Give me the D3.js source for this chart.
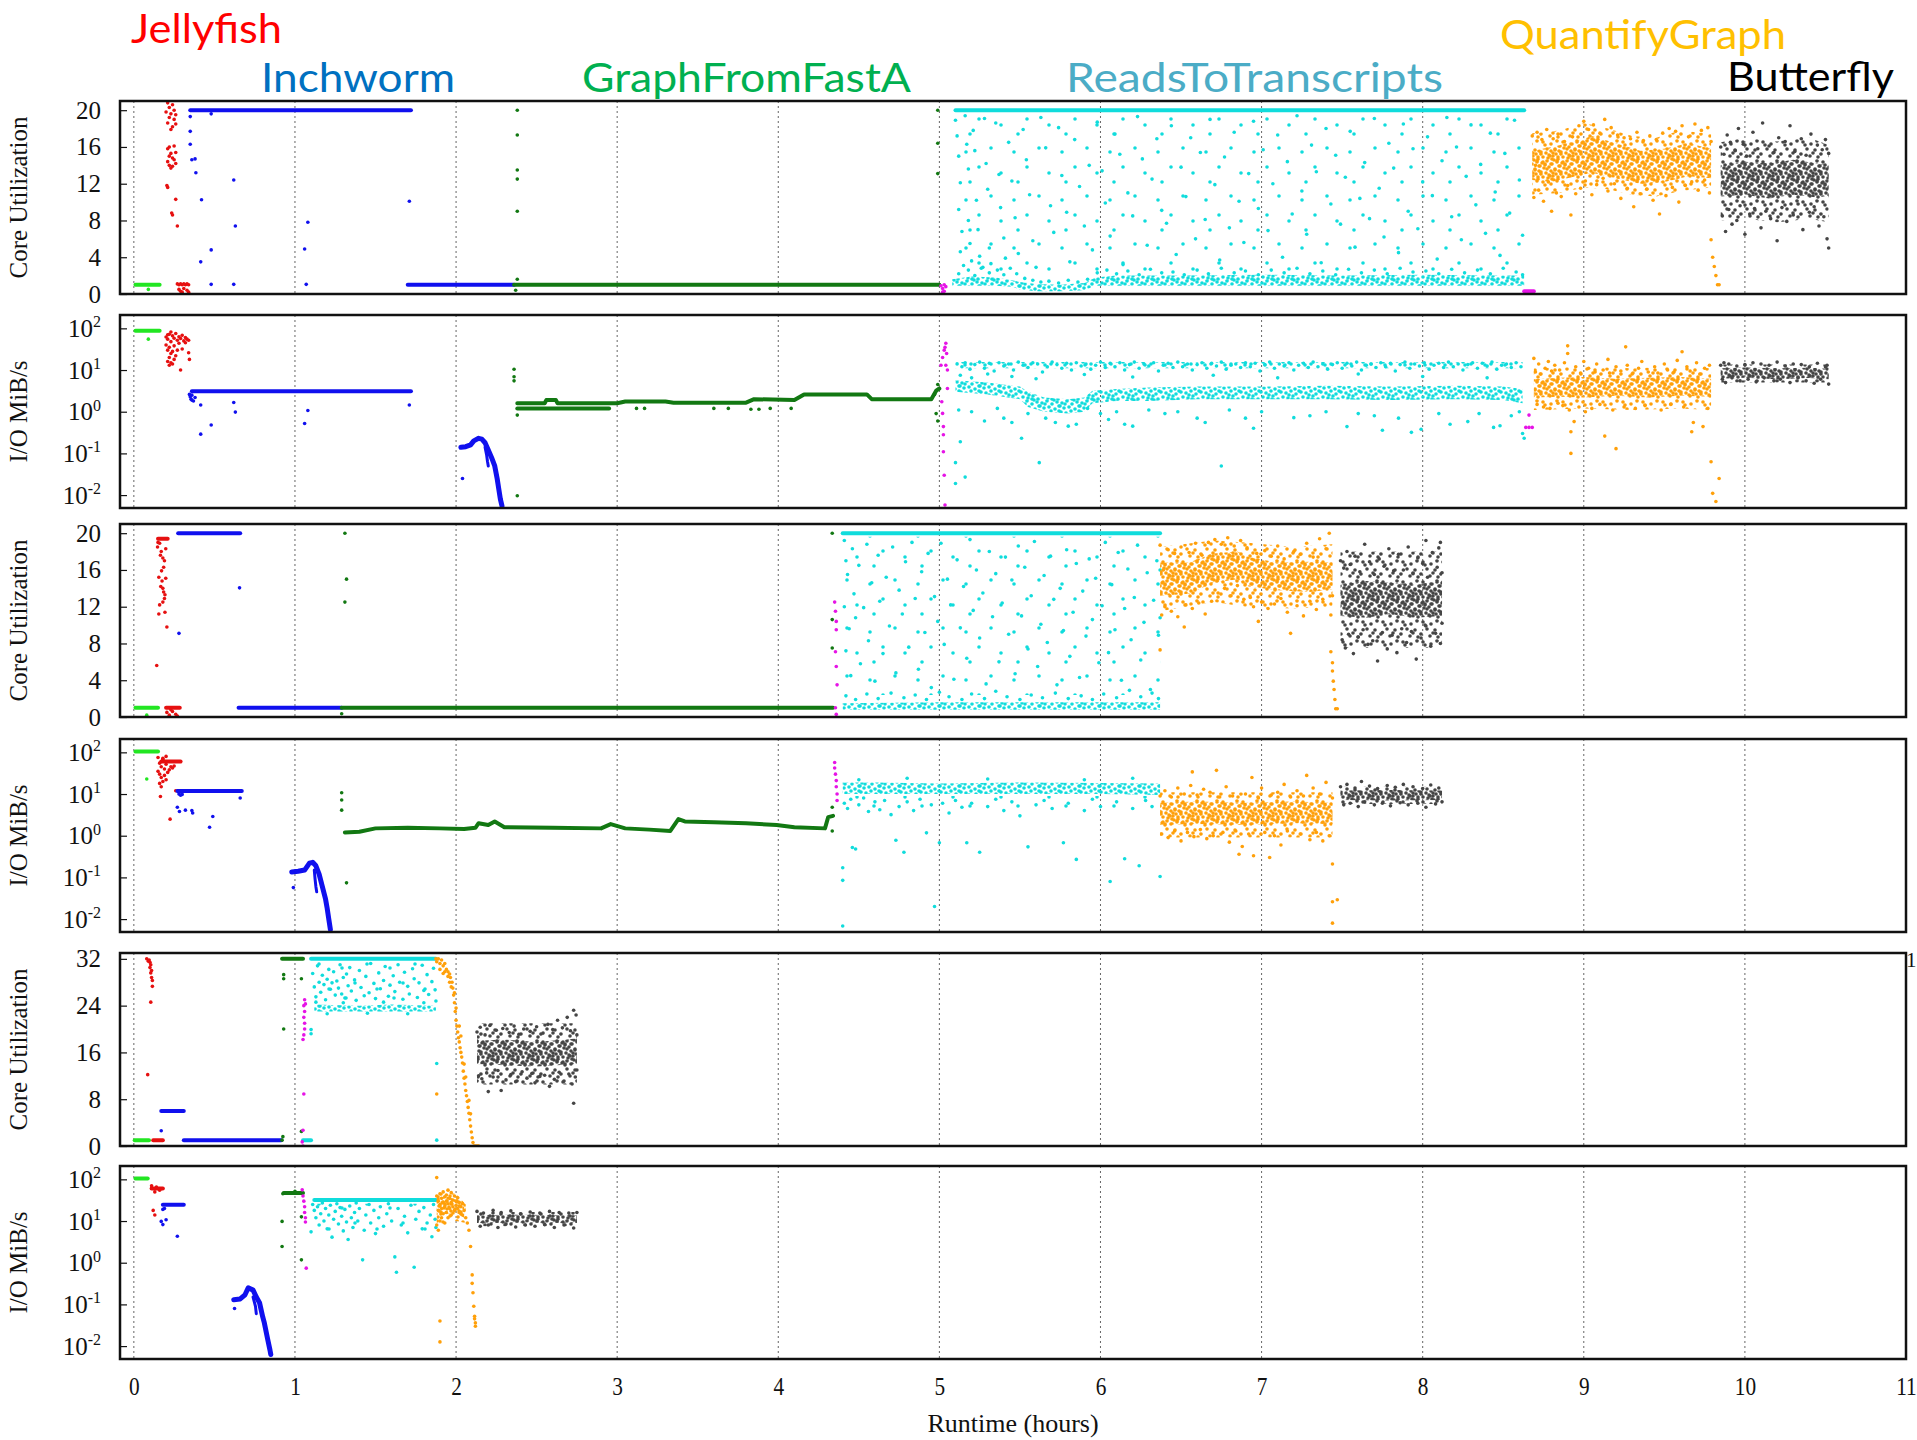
<!DOCTYPE html>
<html>
<head>
<meta charset="utf-8">
<title>Trinity stage profile</title>
<script src="https://d3js.org/d3.v7.min.js"></script>
<style>
body { margin: 0; background: #fff; }
svg { display: block; }
</style>
</head>
<body>
<div id="chart"></div>
<script>
// ---------- data (hours, value) ----------
var hourTicks = [0, 1, 2, 3, 4, 5, 6, 7, 8, 9, 10, 11];
var coreTicks20 = [0, 4, 8, 12, 16, 20];
var coreTicks32 = [0, 8, 16, 24, 32];
var ioTicks = [0.01, 0.1, 1, 10, 100];
var stageNames = ["Jellyfish", "Inchworm", "GraphFromFastA", "ReadsToTranscripts", "QuantifyGraph", "Butterfly"];

// bands are [hours, low, high] outlines of the dense point clouds

// panel 1 : core utilization, run A
var p1LimeRuns = [[0.01, 0.16, 1]];
var p1LimePts = [[0.09, 0.5]];
var p1RedPts = [[0.21,20.8],[0.22,20.3],[0.24,20.6],[0.25,20.0],[0.20,19.8],[0.23,19.6],[0.26,19.5],[0.22,19.2],[0.25,19.0],[0.21,18.6],[0.24,18.2],[0.26,18.5],[0.23,17.9],[0.22,16.0],[0.25,16.1],[0.21,15.8],[0.23,15.3],[0.26,15.4],[0.22,15.0],[0.24,14.8],[0.21,14.4],[0.25,14.6],[0.22,14.0],[0.24,13.9],[0.26,14.2],[0.23,13.7],[0.205,11.8],[0.21,11.6],[0.26,10.3],[0.235,8.8],[0.24,8.6],[0.27,7.4],
  [0.27,1.1],[0.28,1.0],[0.29,1.1],[0.30,1.0],[0.31,1.1],[0.32,1.0],[0.33,1.1],[0.34,1.0],[0.28,0.5],[0.29,0.3],[0.31,0.6],[0.33,0.4],[0.34,0.2],[0.30,0.2]];
var p1BlueRuns = [[0.35, 1.72, 20], [1.70, 2.36, 1]];
var p1BluePts = [[0.35,19.3],[0.35,17.7],[0.35,16.3],[0.36,14.6],[0.38,14.7],[0.385,13.2],[0.42,10.25],[0.415,3.5],[0.48,19.6],[0.48,4.8],[0.48,1.05],[0.62,12.4],[0.63,7.4],[0.62,1.05],[1.06,4.9],[1.08,7.8],[1.07,1.05],[1.71,10.1]];
var p1GreenRuns = [[2.36, 5.0, 1]];
var p1GreenPts = [[2.38,20],[2.38,17.3],[2.38,13.5],[2.38,12.5],[2.38,9.0],[2.38,1.6],[2.37,0.4],[4.99,20],[4.99,16.4],[4.99,13.1]];
var p1MagentaPts = [[5.01,0.9],[5.02,0.6],[5.03,0.3],[5.02,0.2],[5.04,0.8],[5.03,1.0]];
var p1MagentaRuns = [[8.63, 8.69, 0.3]];
var p1CyanRuns = [[5.10, 8.63, 20]];
var p1CyanBand = [[5.08,0.9,1.6],[5.2,0.9,1.9],[5.35,0.9,1.8],[5.45,0.8,1.5],[5.5,0.5,1.3],[5.6,0.3,1.1],[5.75,0.3,1.0],[5.9,0.4,1.2],[5.97,0.9,1.8],[6.1,0.9,2.0],[6.5,0.9,2.0],[7.0,0.9,2.1],[7.5,0.9,2.0],[8.0,0.9,2.1],[8.5,0.9,2.0],[8.63,0.9,2.0]];
var p1CyanCloud = [[5.10,2.4,19.6],[8.62,2.4,19.6]];
var p1CyanLow = [[5.12,2.2],[5.18,2.6],[5.22,2.0],[5.27,2.9],[5.31,2.3],[5.36,2.6],[5.40,2.1],[5.44,2.8],[5.48,2.2],[5.53,1.7],[5.58,1.5],[5.63,1.3],[5.68,1.4],[5.74,1.2],[5.80,1.5],[5.86,1.3],[5.92,1.6],[5.98,2.3],[6.04,2.6],[6.10,2.2],[6.17,2.5],[6.24,2.1],[6.31,2.7],[6.38,2.3],[6.45,2.4],[6.52,2.1],[6.60,2.6],[6.67,2.2],[6.75,2.8],[6.83,2.3],[6.90,2.5],[6.98,2.1],[7.06,2.6],[7.14,2.3],[7.22,2.8],[7.30,2.2],[7.38,2.5],[7.46,2.1],[7.54,2.7],[7.62,2.3],[7.70,2.6],[7.78,2.2],[7.86,2.8],[7.94,2.4],[8.02,2.5],[8.10,2.2],[8.18,2.7],[8.26,2.3],[8.34,2.6],[8.42,2.2],[8.50,2.8],[8.58,2.4],[8.62,2.1]];
var p1CyanPts = [[5.10,18.9],[5.11,17.2],[5.12,15.0],[5.13,12.1],[5.12,9.2],[5.14,6.8],[5.13,4.6],[5.15,3.1],[5.16,19.4],[5.17,16.3],[5.18,13.6],[5.18,8.0],[5.19,5.5],[5.20,3.6],[5.21,17.8],[5.22,15.6],[5.23,10.2],[5.24,7.0],[5.25,4.1],[5.26,2.8],[5.28,19.1],[5.29,14.2],[5.30,11.4],[5.31,5.0],[5.32,3.3],[5.35,18.6],[5.37,13.0],[5.38,9.4],[5.40,6.1],[5.41,3.9],[5.43,16.5],[5.45,12.3],[5.47,8.3],[5.49,4.4],[5.52,17.9],[5.54,14.6],[5.56,10.8],[5.58,5.8],[5.60,2.9],[5.63,19.2],[5.66,15.9],[5.69,9.6],[5.71,6.7],[5.74,18.1],[5.76,12.9],[5.79,8.9],[5.81,3.5],[5.84,16.8],[5.87,11.7],[5.90,7.4],[5.93,14.0],[5.95,4.8],[5.98,18.7],[6.01,13.4],[6.03,9.9],[6.06,6.3],[6.09,17.4],[6.12,15.2],[6.14,3.2],[6.17,11.0],[6.20,8.5],[6.23,19.3],[6.26,14.7],[6.29,5.3],[6.32,12.5],[6.35,16.9],[6.38,9.1],[6.41,7.7],[6.44,18.3],[6.47,4.3],[6.50,13.8],[6.53,10.6],[6.56,17.0],[6.59,6.0],[6.62,15.4],[6.65,8.1],[6.68,19.0],[6.71,11.9],[6.74,3.7],[6.77,14.9],[6.80,7.2],[6.83,17.6],[6.86,10.1],[6.89,5.6],[6.92,13.1],[6.95,18.8],[6.98,9.3],[7.01,15.7],[7.04,6.9],[7.07,12.0],[7.10,17.3],[7.13,4.0],[7.16,14.4],[7.19,8.7],[7.22,19.4],[7.25,11.2],[7.28,6.5],[7.31,16.2],[7.34,13.3],[7.37,3.4],[7.40,18.0],[7.43,9.8],[7.46,15.1],[7.49,7.6],[7.52,12.7],[7.55,17.7],[7.58,5.1],[7.61,10.4],[7.64,14.3],[7.67,8.2],[7.70,19.1],[7.73,11.5],[7.76,6.2],[7.79,16.4],[7.82,13.7],[7.85,4.5],[7.88,18.5],[7.91,9.0],[7.94,15.8],[7.97,7.1],[8.00,12.2],[8.03,17.1],[8.06,10.7],[8.09,3.8],[8.12,14.5],[8.15,19.2],[8.18,8.4],[8.21,16.0],[8.24,5.9],[8.27,12.8],[8.30,18.4],[8.33,9.7],[8.36,14.1],[8.39,6.6],[8.42,17.5],[8.45,11.1],[8.48,4.2],[8.51,15.3],[8.54,8.8],[8.57,18.9],[8.60,12.4],[8.62,6.4]];
var p1OrangeHalo = [[8.68,10.8,17.5],[8.85,11.0,17.8],[9.0,11.6,18.6],[9.15,11.4,18.0],[9.3,10.8,17.2],[9.45,10.6,17.0],[9.6,11.2,17.8],[9.79,11.6,17.4]];
var p1OrangeBand = [[8.68,12.4,15.6],[8.8,12.2,16.0],[8.95,12.8,16.6],[9.05,13.2,17.2],[9.2,12.6,16.4],[9.35,12.0,15.6],[9.5,12.2,15.8],[9.65,12.8,16.4],[9.79,12.6,15.8]];
var p1OrangePts = [[8.68,17.2],[8.69,10.5],[8.70,14.0],[8.71,17.6],[8.72,11.3],[8.74,16.8],[8.75,10.1],[8.77,17.9],[8.78,12.2],[8.80,9.0],[8.81,16.9],[8.83,11.0],[8.84,17.4],[8.86,10.6],[8.88,16.6],[8.90,11.8],[8.92,8.6],[8.93,17.1],[8.95,10.9],[8.97,18.3],[8.98,11.5],[9.00,18.8],[9.01,12.3],[9.03,17.9],[9.05,10.8],[9.06,18.4],[9.08,11.9],[9.10,17.5],[9.12,12.6],[9.13,19.0],[9.15,11.2],[9.17,18.1],[9.19,12.0],[9.21,17.3],[9.23,10.4],[9.25,17.0],[9.27,11.5],[9.29,16.9],[9.31,9.5],[9.33,17.6],[9.35,10.9],[9.37,16.7],[9.39,11.4],[9.41,17.2],[9.43,10.2],[9.45,16.8],[9.47,8.7],[9.49,17.5],[9.51,10.7],[9.53,18.0],[9.55,11.6],[9.57,17.7],[9.59,10.0],[9.61,18.3],[9.63,11.8],[9.65,17.1],[9.67,12.2],[9.69,18.5],[9.71,11.3],[9.73,17.8],[9.75,12.4],[9.77,18.1],[9.78,11.0],[9.79,16.6],
  [9.79,5.9],[9.80,4.0],[9.81,3.0],[9.82,2.0],[9.83,1.0],[9.84,1.0]];
var p1GrayHalo = [[9.85,8.0,16.5],[10.0,8.2,17.0],[10.2,7.8,16.6],[10.4,8.2,17.0],[10.52,7.8,16.2]];
var p1GrayBand = [[9.85,10.6,14.0],[10.0,10.8,14.4],[10.15,10.4,14.2],[10.3,10.8,14.6],[10.45,10.5,14.2],[10.52,10.7,14.0]];
var p1GrayPts = [[9.85,16.0],[9.86,8.5],[9.87,15.2],[9.88,6.8],[9.89,17.3],[9.90,9.2],[9.91,16.5],[9.92,7.6],[9.94,15.6],[9.95,8.0],[9.96,18.0],[9.97,9.6],[9.99,16.3],[10.00,6.5],[10.01,15.0],[10.03,8.7],[10.05,17.6],[10.06,9.3],[10.08,15.8],[10.10,7.2],[10.11,18.6],[10.13,9.0],[10.15,16.1],[10.16,8.2],[10.18,15.4],[10.20,5.8],[10.21,17.0],[10.23,9.4],[10.25,16.6],[10.26,7.9],[10.28,18.3],[10.30,8.6],[10.31,15.5],[10.33,9.8],[10.35,16.9],[10.36,7.0],[10.38,15.1],[10.40,8.9],[10.41,17.4],[10.43,9.5],[10.45,16.2],[10.46,7.4],[10.48,15.7],[10.49,8.4],[10.50,16.8],[10.51,6.0],[10.52,15.3],[10.52,5.0]];

// panel 2 : I/O, run A
var p2LimeRuns = [[0.01, 0.16, 88]];
var p2LimePts = [[0.09, 55]];
var p2RedPts = [[0.20,62],[0.21,55],[0.22,72],[0.23,48],[0.24,66],[0.25,58],[0.26,75],[0.27,52],[0.28,63],[0.29,57],[0.30,68],[0.31,50],[0.32,60],[0.33,55],[0.34,52],[0.20,40],[0.21,30],[0.22,35],[0.23,25],[0.24,28],[0.22,20],[0.21,16],[0.23,15],[0.25,18],[0.24,14],[0.26,22],[0.22,13],[0.25,38],[0.27,30],[0.30,32],[0.32,45],[0.29,10],[0.34,26],[0.345,18],[0.28,44],[0.21,70],[0.23,82]];
var p2BlueRuns = [[0.36, 1.72, 3.1]];
var p2BluePts = [[0.345,2.6],[0.35,2.3],[0.355,2.0],[0.36,1.9],[0.37,1.8],[0.36,2.5],[0.38,2.2],[0.415,1.45],[0.415,0.29],[0.48,0.48],[0.62,1.67],[0.63,0.98],[1.06,0.52],[1.08,1.07],[1.71,1.45],[2.04,0.025]];
var p2BlueCurve = [[2.03,0.14],[2.06,0.145],[2.09,0.16],[2.11,0.2],[2.14,0.23],[2.16,0.22],[2.18,0.18],[2.20,0.12],[2.22,0.08],[2.24,0.05],[2.255,0.025],[2.265,0.014],[2.275,0.008],[2.285,0.0055]];
var p2BlueBranch = [[2.18,0.14],[2.19,0.09],[2.195,0.065],[2.20,0.05]];
var p2GreenPts = [[2.36,10.4],[2.36,6.9],[2.36,5.5],[2.38,0.83],[2.38,0.0096],[3.12,1.2],[3.17,1.2],[3.6,1.2],[3.69,1.2],[3.83,1.15],[3.88,1.15],[3.95,1.2],[4.08,1.2],[4.98,0.9],[4.99,0.6],[4.97,2.6],[4.99,4.5]];
var p2GreenTrace = [[2.38,1.6],[2.55,1.6],[2.56,1.9],[2.62,1.9],[2.63,1.6],[3.0,1.6],[3.05,1.75],[3.3,1.75],[3.35,1.65],[3.8,1.65],[3.85,2.0],[4.1,1.9],[4.16,2.6],[4.55,2.6],[4.58,2.0],[4.95,2.0],[4.98,3.2],[5.0,3.6]];
var p2GreenLow = [[2.38,1.2],[2.95,1.2]];
var p2MagentaPts = [[5.04,44],[5.045,25],[5.04,13],[5.01,13],[5.05,10],[5.02,20],[5.03,30],[5.035,35],[5.015,1.74],[5.02,0.91],[5.025,0.44],[5.025,0.28],[5.025,0.11],[5.03,0.03],[5.035,0.0058],[5.05,3.6],[8.66,0.83],[8.64,0.42],[8.66,0.42],[8.68,0.42]];
var p2CyanBand = [[5.10,3.0,5.7],[5.3,2.6,5.0],[5.5,2.0,4.0],[5.55,1.3,3.0],[5.65,1.0,2.2],[5.8,0.9,2.0],[5.9,1.0,2.2],[5.95,1.6,3.2],[6.1,1.8,3.5],[6.3,1.8,3.8],[6.6,2.0,4.0],[7.0,2.0,4.0],[7.4,2.0,4.2],[7.8,1.9,4.0],[8.2,2.0,4.2],[8.5,1.9,4.0],[8.62,1.6,3.5]];
var p2CyanRow = [[5.10,11,15.5],[8.62,11,15.5]];
var p2CyanUpper = [[5.11,14],[5.14,12],[5.16,15],[5.19,10.5],[5.22,13.5],[5.25,15.5],[5.28,11],[5.31,14.5],[5.34,9.5],[5.37,15],[5.40,12.5],[5.43,14],[5.46,10],[5.49,15.5],[5.52,13],[5.55,11.5],[5.58,15],[5.61,14],[5.64,9],[5.67,12],[5.70,15.5],[5.73,13.5],[5.76,11],[5.79,14.5],[5.82,10],[5.85,15],[5.88,12.5],[5.91,14],[5.94,10.5],[5.97,13],[6.00,15.5],[6.03,11.5],[6.06,14.5],[6.09,12],[6.12,15],[6.15,10],[6.18,13.5],[6.21,15.5],[6.24,11],[6.27,14],[6.30,12.5],[6.33,15],[6.36,9.5],[6.39,13],[6.42,14.5],[6.45,11.5],[6.48,15.5],[6.51,12],[6.54,14],[6.57,10],[6.60,13.5],[6.63,15],[6.66,11],[6.69,14.5],[6.72,12.5],[6.75,15.5],[6.78,10.5],[6.81,13],[6.84,14],[6.87,11.5],[6.90,15],[6.93,12],[6.96,14.5],[6.99,9.5],[7.02,13.5],[7.05,15.5],[7.08,11],[7.11,14],[7.14,12.5],[7.17,15],[7.20,10],[7.23,13],[7.26,14.5],[7.29,11.5],[7.32,15.5],[7.35,12],[7.38,14],[7.41,10.5],[7.44,13.5],[7.47,15],[7.50,11],[7.53,14.5],[7.56,12.5],[7.59,15.5],[7.62,10],[7.65,13],[7.68,14],[7.71,11.5],[7.74,15],[7.77,12],[7.80,14.5],[7.83,9.5],[7.86,13.5],[7.89,15.5],[7.92,11],[7.95,14],[7.98,12.5],[8.01,15],[8.04,10.5],[8.07,13],[8.10,14.5],[8.13,11.5],[8.16,15.5],[8.19,12],[8.22,14],[8.25,10],[8.28,13.5],[8.31,15],[8.34,11],[8.37,14.5],[8.40,12.5],[8.43,15.5],[8.46,10.5],[8.49,13],[8.52,14],[8.55,11.5],[8.58,15],[8.61,12],
  [5.13,7.5],[5.2,6.5],[5.3,8],[5.45,7],[5.6,6.2],[5.9,7.8],[6.2,6.8],[6.7,7.5],[7.1,6.5],[7.6,8],[8.0,7],[8.4,6.5]];
var p2CyanLower = [[5.12,1.1],[5.13,0.19],[5.10,0.06],[5.10,0.019],[5.16,0.027],[5.2,1.0],[5.28,0.6],[5.36,1.2],[5.4,0.7],[5.45,0.55],[5.51,0.23],[5.55,0.9],[5.62,0.06],[5.66,0.7],[5.72,0.55],[5.8,0.45],[5.85,0.5],[5.92,1.2],[6.0,0.9],[6.05,0.65],[6.1,1.0],[6.15,0.5],[6.2,0.45],[6.3,1.1],[6.4,0.9],[6.48,1.0],[6.6,0.7],[6.65,0.55],[6.75,0.05],[6.8,1.1],[6.9,0.7],[6.95,0.4],[7.0,1.0],[7.2,0.72],[7.3,0.8],[7.4,1.0],[7.53,0.44],[7.6,0.9],[7.7,0.8],[7.75,0.36],[7.85,0.7],[7.93,0.32],[7.99,0.38],[8.1,0.9],[8.17,0.5],[8.28,0.58],[8.35,0.9],[8.44,0.42],[8.48,0.46],[8.55,0.8],[8.6,1.0],[8.62,0.3],[8.63,0.23]];
var p2OrangeHalo = [[8.69,1.1,11],[9.0,1.2,12],[9.3,1.1,11],[9.6,1.2,12],[9.79,1.1,11]];
var p2OrangeBand = [[8.69,2.2,6.0],[8.85,2.3,6.5],[9.0,2.2,6.8],[9.2,2.4,6.2],[9.4,2.2,6.5],[9.6,2.4,6.8],[9.79,2.3,6.2]];
var p2OrangePts = [[8.69,19],[8.70,9],[8.71,1.5],[8.72,14],[8.73,8],[8.75,1.3],[8.76,11],[8.78,16],[8.79,1.2],[8.80,9.5],[8.82,13],[8.84,1.6],[8.85,10],[8.87,1.4],[8.88,15],[8.90,38],[8.90,25],[8.91,1.1],[8.92,0.33],[8.92,0.1],[8.94,0.58],[8.95,12],[8.97,1.3],[8.98,8.5],[9.00,16],[9.01,1.0],[9.03,11],[9.05,1.2],[9.07,9],[9.08,14],[9.10,1.5],[9.12,10],[9.13,0.26],[9.15,18],[9.16,8.5],[9.18,1.1],[9.20,0.13],[9.20,12],[9.23,9.5],[9.25,1.3],[9.26,36],[9.27,13],[9.30,8],[9.32,1.2],[9.34,11],[9.36,16],[9.38,1.4],[9.40,9],[9.44,12],[9.46,8.5],[9.48,1.1],[9.50,14],[9.52,10],[9.54,1.5],[9.56,9],[9.58,17],[9.61,27.5],[9.62,1.3],[9.64,12],[9.66,9.5],[9.67,0.33],[9.68,0.55],[9.70,15],[9.72,8],[9.74,0.44],[9.75,11],[9.77,1.2],[9.78,13],[9.79,0.063],[9.80,0.011],[9.82,0.007],[9.84,0.025]];
var p2GrayHalo = [[9.85,5.0,13.5],[10.52,5.0,13.5]];
var p2GrayBand = [[9.85,6.2,11.0],[10.0,6.5,11.5],[10.2,6.0,11.0],[10.4,6.4,11.4],[10.52,6.0,10.8]];
var p2GrayPts = [[9.85,13],[9.86,6],[9.87,15],[9.88,5],[9.90,14],[9.92,6.5],[9.95,12.5],[9.97,5.5],[10.0,13.5],[10.02,6],[10.05,15],[10.07,5.2],[10.1,14],[10.12,6.5],[10.15,13],[10.18,5.5],[10.2,15.5],[10.22,6],[10.25,12.5],[10.28,5],[10.3,14],[10.33,6.5],[10.35,13.5],[10.38,5.5],[10.4,12],[10.43,4.8],[10.45,14.5],[10.47,6],[10.5,12],[10.52,4.6],[10.51,13]];

// panel 3 : core utilization, run B
var p3LimeRuns = [[0.01, 0.15, 1]];
var p3LimePts = [[0.08, 0.2]];
var p3RedRuns = [[0.15, 0.21, 19.4], [0.20, 0.285, 1.0]];
var p3RedPts = [[0.147,18.5],[0.198,18.3],[0.165,17.6],[0.18,17.3],[0.185,16.3],[0.172,15.9],[0.155,15.2],[0.198,15.1],[0.167,14.2],[0.185,13.6],[0.193,13.3],[0.18,12.5],[0.16,12.2],[0.155,11.2],[0.193,11.4],[0.205,9.8],[0.142,5.6],[0.15,19.0],[0.16,18.9],[0.17,18.0],[0.19,17.0],[0.175,14.8],[0.18,14.0],[0.19,12.9],[0.205,0.5],[0.22,0.2],[0.24,0.6],[0.26,0.3],[0.27,0.1],[0.23,0.8]];
var p3BlueRuns = [[0.275, 0.66, 20], [0.65, 1.29, 1]];
var p3BluePts = [[0.28, 9.1], [0.656, 14.05]];
var p3GreenRuns = [[1.29, 4.34, 1]];
var p3GreenPts = [[1.31,20],[1.32,15],[1.31,12.5],[1.29,0.36],[4.335,20],[4.335,10.6],[4.335,7.5]];
var p3MagentaPts = [[4.35,12.5],[4.355,11.5],[4.36,10.4],[4.36,9.5],[4.355,7.1],[4.36,5.5],[4.365,3.5],[4.355,1.0],[4.36,0.3],[4.36,0.0]];
var p3CyanRuns = [[4.40, 6.37, 20]];
var p3CyanBand = [[4.40,0.8,1.5],[5.0,0.8,1.6],[5.5,0.8,1.6],[6.0,0.8,1.6],[6.37,0.8,1.6]];
var p3CyanCloud = [[4.40,2.4,19.6],[6.37,2.4,19.6]];
var p3CyanPts = [[4.41,19.2],[4.42,17.0],[4.43,15.5],[4.41,12.0],[4.44,9.6],[4.42,7.2],[4.45,4.5],[4.46,18.3],[4.47,13.4],[4.48,10.8],[4.50,16.5],[4.51,5.8],[4.53,11.9],[4.55,18.8],[4.56,8.3],[4.58,14.6],[4.60,3.9],[4.62,17.6],[4.63,12.6],[4.65,6.9],[4.67,15.2],[4.69,9.9],[4.71,18.5],[4.73,4.8],[4.75,13.8],[4.77,11.2],[4.79,16.9],[4.81,7.6],[4.83,19.0],[4.85,12.9],[4.87,5.2],[4.89,15.8],[4.91,9.2],[4.93,17.8],[4.95,3.2],[4.97,13.1],[4.99,10.4],[5.01,18.9],[5.03,7.9],[5.05,15.0],[5.07,12.2],[5.09,4.1],[5.11,17.1],[5.13,9.7],[5.15,14.2],[5.17,6.4],[5.19,19.3],[5.21,11.6],[5.23,16.0],[5.25,8.6],[5.27,13.5],[5.29,3.6],[5.31,18.0],[5.33,10.9],[5.35,15.6],[5.37,6.0],[5.39,12.4],[5.41,17.4],[5.43,9.0],[5.45,14.9],[5.47,4.7],[5.49,18.6],[5.51,11.0],[5.53,16.3],[5.55,7.4],[5.57,13.2],[5.59,19.1],[5.61,5.5],[5.63,10.1],[5.65,15.4],[5.67,8.1],[5.69,17.5],[5.71,12.8],[5.73,3.5],[5.75,14.0],[5.77,9.4],[5.79,18.2],[5.81,6.6],[5.83,11.4],[5.85,16.7],[5.87,4.3],[5.89,13.7],[5.91,8.8],[5.93,17.2],[5.95,10.6],[5.97,15.1],[5.99,5.9],[6.01,12.1],[6.03,19.0],[6.05,7.0],[6.07,14.4],[6.09,9.5],[6.11,17.9],[6.13,4.0],[6.15,11.8],[6.17,16.1],[6.19,8.4],[6.21,13.0],[6.23,18.7],[6.25,6.2],[6.27,10.3],[6.29,15.7],[6.31,3.0],[6.33,12.7],[6.35,17.0],[6.36,8.9],[6.37,10.8],[6.37,16.0],
  [4.42,2.3],[4.48,1.9],[4.55,2.5],[4.62,2.0],[4.7,2.6],[4.78,2.1],[4.85,2.4],[4.92,1.9],[5.0,2.7],[5.06,2.2],[5.14,1.9],[5.2,2.5],[5.28,2.0],[5.35,2.8],[5.42,2.2],[5.5,1.9],[5.57,2.4],[5.64,2.1],[5.72,2.6],[5.8,2.0],[5.88,2.3],[5.95,1.9],[6.02,2.5],[6.1,2.1],[6.18,2.9],[6.25,2.2],[6.32,2.6],[6.36,2.0]];
var p3OrangeHalo = [[6.37,11.5,18.5],[6.7,12.5,19.2],[6.9,12.0,19.0],[7.2,11.8,18.5],[7.44,12.0,18.8]];
var p3OrangeBand = [[6.37,13.2,16.8],[6.55,13.4,16.8],[6.70,14.6,17.8],[6.85,15.0,18.0],[6.92,14.2,17.4],[7.1,13.8,16.8],[7.3,13.6,16.9],[7.44,13.9,16.8]];
var p3OrangePts = [[6.37,18.7],[6.38,11.1],[6.39,16.0],[6.40,12.0],[6.42,18.2],[6.44,11.5],[6.46,17.8],[6.48,10.9],[6.50,18.5],[6.52,9.8],[6.53,12.2],[6.55,17.9],[6.57,11.8],[6.59,18.9],[6.61,12.4],[6.63,17.6],[6.65,11.2],[6.67,19.0],[6.69,12.6],[6.71,19.3],[6.73,13.5],[6.75,18.8],[6.77,14.0],[6.79,19.5],[6.81,13.2],[6.83,18.6],[6.85,14.3],[6.87,19.2],[6.89,12.8],[6.91,18.4],[6.93,13.0],[6.95,12.0],[6.97,17.8],[6.98,10.4],[7.00,12.5],[7.02,18.1],[7.04,11.8],[7.06,17.5],[7.08,12.3],[7.10,18.6],[7.12,12.9],[7.14,17.2],[7.16,11.4],[7.18,9.1],[7.20,18.0],[7.22,12.1],[7.24,17.7],[7.26,11.0],[7.28,18.9],[7.30,12.6],[7.32,17.4],[7.34,11.7],[7.36,19.4],[7.38,12.8],[7.40,18.3],[7.42,20.0],[7.43,11.1],[7.44,13.2],[6.37,7.3],
  [7.43,7.1],[7.44,5.9],[7.44,5.0],[7.445,3.9],[7.45,3.0],[7.455,1.9],[7.46,0.9],[7.47,0.9]];
var p3GrayHalo = [[7.49,7.5,18.0],[8.12,7.5,18.0]];
var p3GrayBand = [[7.49,11.0,14.4],[7.65,10.8,14.8],[7.8,11.2,14.6],[7.95,10.8,14.4],[8.12,11.0,14.8]];
var p3GrayPts = [[7.49,17.0],[7.50,8.4],[7.51,16.2],[7.52,7.5],[7.53,18.0],[7.54,9.0],[7.55,16.6],[7.57,6.9],[7.58,17.5],[7.60,8.7],[7.61,15.8],[7.63,9.5],[7.64,18.8],[7.66,7.9],[7.67,16.9],[7.69,8.3],[7.70,15.5],[7.72,6.1],[7.73,17.2],[7.75,9.2],[7.76,16.4],[7.78,7.4],[7.79,18.3],[7.81,8.9],[7.82,15.9],[7.84,7.0],[7.85,17.7],[7.87,9.6],[7.88,16.0],[7.90,8.1],[7.91,18.5],[7.93,9.3],[7.94,15.6],[7.96,6.3],[7.97,17.3],[7.99,8.6],[8.00,16.7],[8.02,9.9],[8.03,15.2],[8.05,7.7],[8.06,17.9],[8.08,9.1],[8.09,16.3],[8.10,18.4],[8.11,8.0],[8.12,15.7],[8.12,10.2],[8.11,19.0],[8.02,19.2]];

// panel 4 : I/O, run B
var p4LimeRuns = [[0.01, 0.15, 105]];
var p4LimePts = [[0.08, 23]];
var p4RedRuns = [[0.17, 0.29, 60]];
var p4RedPts = [[0.15,75],[0.16,55],[0.17,45],[0.18,68],[0.19,40],[0.20,52],[0.15,35],[0.16,30],[0.17,25],[0.18,20],[0.19,28],[0.20,22],[0.21,33],[0.22,38],[0.23,45],[0.16,18],[0.165,8.7],[0.225,2.5],[0.26,12],[0.24,42],[0.25,47],[0.18,72],[0.2,80],[0.17,15]];
var p4BlueRuns = [[0.27, 0.67, 11.8]];
var p4BluePts = [[0.28,10],[0.29,9.4],[0.30,9.8],[0.27,4.8],[0.283,3.8],[0.32,4.1],[0.36,4.0],[0.365,3.5],[0.47,1.6],[0.49,2.9],[0.66,8.0],[0.99,0.057]];
var p4BlueCurve = [[0.98,0.135],[1.02,0.14],[1.06,0.15],[1.09,0.22],[1.11,0.23],[1.13,0.19],[1.15,0.12],[1.17,0.06],[1.19,0.03],[1.20,0.018],[1.21,0.01],[1.22,0.0056]];
var p4BlueBranch = [[1.12,0.15],[1.125,0.09],[1.13,0.06],[1.135,0.045]];
var p4GreenPts = [[1.29,10.7],[1.29,7.2],[1.29,4.1],[1.32,0.074],[4.335,4.8],[4.335,1.3]];
var p4GreenTrace = [[1.31,1.2],[1.4,1.25],[1.5,1.5],[1.7,1.55],[1.9,1.5],[2.05,1.45],[2.12,1.55],[2.14,2.0],[2.2,1.8],[2.24,2.2],[2.3,1.6],[2.6,1.55],[2.9,1.5],[2.96,1.9],[3.05,1.5],[3.2,1.4],[3.33,1.3],[3.38,2.5],[3.42,2.2],[3.6,2.1],[3.8,2.0],[3.99,1.8],[4.1,1.6],[4.29,1.5],[4.31,2.8],[4.34,3.0]];
var p4MagentaPts = [[4.35,57],[4.35,42],[4.355,30],[4.36,21],[4.36,15],[4.365,10],[4.365,7]];
var p4CyanBand = [[4.40,10,19],[4.6,10,19],[5.0,10,18],[5.5,10,19],[6.0,10,18.5],[6.37,9.5,18]];
var p4CyanCloud = [[4.40,3.0,9.0],[6.37,3.0,9.0]];
var p4CyanPts = [[4.41,6],[4.43,4.5],[4.45,7.5],[4.46,0.52],[4.48,0.48],[4.50,5.5],[4.53,8],[4.56,3.8],[4.60,6.5],[4.63,4.2],[4.66,7],[4.70,3.2],[4.73,0.78],[4.75,5],[4.78,0.4],[4.80,6.5],[4.84,4],[4.88,7.5],[4.92,1.17],[4.95,5.5],[4.97,0.02],[5.0,0.68],[5.02,6],[5.06,3.5],[5.10,7],[5.14,4.8],[5.17,0.68],[5.20,6],[5.25,0.4],[5.30,5],[5.35,7.5],[5.40,4],[5.45,6.5],[5.50,3],[5.55,0.54],[5.60,5.5],[5.65,7],[5.70,4.5],[5.77,0.68],[5.80,6],[5.85,0.27],[5.9,4],[5.95,7.5],[6.0,5],[6.06,0.08],[6.10,6.5],[6.15,0.28],[6.2,4.5],[6.24,0.19],[6.28,7],[6.32,5],[6.37,0.105],[4.40,0.0068],[4.40,0.085],[4.40,0.17],[4.5,22],[4.8,24],[5.3,23],[5.9,22],[6.2,24]];
var p4OrangeHalo = [[6.37,0.9,11],[7.44,0.9,11]];
var p4OrangeBand = [[6.37,1.8,6.2],[6.6,1.9,6.6],[6.9,1.8,6.2],[7.2,2.0,6.6],[7.44,1.9,6.2]];
var p4OrangePts = [[6.37,9],[6.38,1.1],[6.40,12],[6.42,0.9],[6.44,8.5],[6.46,1.3],[6.48,14],[6.50,0.75],[6.52,10],[6.54,1.2],[6.56,16],[6.57,34],[6.58,0.95],[6.60,9.5],[6.62,1.4],[6.64,13],[6.66,0.85],[6.68,11],[6.70,1.0],[6.72,37],[6.74,8.5],[6.76,1.2],[6.78,15],[6.80,0.7],[6.82,9],[6.84,1.3],[6.86,0.36],[6.88,0.55],[6.90,10],[6.92,1.1],[6.94,25],[6.95,0.33],[6.98,8],[7.00,14],[7.02,1.2],[7.05,0.3],[7.06,9.5],[7.08,1.0],[7.10,11],[7.12,0.6],[7.14,17],[7.16,1.3],[7.18,8.5],[7.22,12],[7.24,1.1],[7.26,9],[7.28,28],[7.30,0.8],[7.32,14],[7.34,1.2],[7.36,10],[7.38,0.75],[7.40,19],[7.42,1.0],[7.44,8],[7.44,0.21],[7.44,0.026],[7.47,0.029],[7.44,0.008]];
var p4GrayHalo = [[7.49,5.8,15.0],[8.12,5.8,15.0]];
var p4GrayBand = [[7.49,7.2,12.2],[7.8,7.0,12.5],[8.12,7.2,12.2]];
var p4GrayPts = [[7.49,15],[7.51,5.5],[7.53,17],[7.55,6],[7.58,14],[7.60,5],[7.62,20],[7.64,6.5],[7.67,15.5],[7.70,5.5],[7.72,13.5],[7.75,6],[7.78,16],[7.80,5.2],[7.83,14.5],[7.86,6.2],[7.88,17],[7.91,5.5],[7.94,15],[7.97,6],[8.0,13.5],[8.02,4.8],[8.05,16.5],[8.08,5.8],[8.10,14],[8.12,6.5]];

// panel 5 : core utilization, run C
var p5LimeRuns = [[0.005, 0.094, 1]];
var p5RedRuns = [[0.12, 0.18, 1]];
var p5RedPts = [[0.08,32],[0.09,31.6],[0.1,31.4],[0.095,31.8],[0.105,31],[0.1,30.5],[0.11,30],[0.105,29.6],[0.11,28.8],[0.115,28.3],[0.115,27.3],[0.105,24.6],[0.086,12.2]];
var p5BlueRuns = [[0.17, 0.31, 6.0], [0.31, 0.915, 1]];
var p5BluePts = [[0.17, 2.6]];
var p5GreenRuns = [[0.92, 1.05, 32]];
var p5GreenPts = [[0.93,20],[0.93,29.3],[0.93,28.6],[1.04,28.6],[0.92,1.0],[0.925,1.6],[1.04,2.5]];
var p5MagentaPts = [[1.06,25],[1.055,24],[1.06,23],[1.055,22],[1.06,20],[1.055,19],[1.05,18.2],[1.055,8.9],[1.05,2.7],[1.045,0.7],[1.05,0],[1.065,24.3],[1.06,21]];
var p5CyanRuns = [[1.10, 1.875, 32], [1.05, 1.10, 1]];
var p5CyanBand = [[1.12,23.0,24.2],[1.4,23.0,24.0],[1.6,23.0,24.2],[1.875,23.0,24.0]];
var p5CyanCloud = [[1.11,24.4,31.5],[1.875,24.4,31.5]];
var p5CyanPts = [[1.11,29.5],[1.12,27.2],[1.13,25.5],[1.14,30.8],[1.15,28.0],[1.16,26.3],[1.17,29.2],[1.18,27.6],[1.19,25.0],[1.20,28.5],[1.21,30.2],[1.22,26.8],[1.23,27.9],[1.24,29.8],[1.25,25.8],[1.26,28.2],[1.27,27.0],[1.28,31.0],[1.29,26.0],[1.30,28.8],[1.31,25.3],[1.32,29.4],[1.33,27.4],[1.34,30.5],[1.35,26.5],[1.37,28.4],[1.38,24.9],[1.40,30.0],[1.41,27.1],[1.43,25.7],[1.44,29.0],[1.46,26.2],[1.47,31.2],[1.49,27.8],[1.50,25.2],[1.52,29.6],[1.53,26.9],[1.55,28.3],[1.56,30.7],[1.58,25.6],[1.59,27.5],[1.61,29.1],[1.62,26.4],[1.64,31.0],[1.65,28.0],[1.67,25.1],[1.68,29.7],[1.70,27.3],[1.71,26.0],[1.73,30.3],[1.74,28.6],[1.76,25.4],[1.77,27.9],[1.79,30.9],[1.80,26.6],[1.82,29.3],[1.83,25.9],[1.85,28.1],[1.86,30.4],[1.87,26.7],[1.875,24.8],
  [1.13,24.6],[1.2,22.6],[1.3,24.5],[1.45,22.7],[1.55,24.6],[1.7,22.6],[1.8,24.5],[1.10,19.9],[1.10,19.2],[1.88,14.1],[1.88,1.0]];
var p5OrangePts = [[1.875,32],[1.88,31.5],[1.89,32],[1.90,31.2],[1.91,31.8],[1.92,30.8],[1.93,31.2],[1.93,29.8],[1.94,30.2],[1.95,29.0],[1.95,29.8],[1.96,28.0],[1.965,28.8],[1.97,27.2],[1.975,28.0],[1.98,27.0],[1.985,25.8],[1.99,24.5],[1.995,23.0],[2.0,21.5],[2.005,20.5],[2.01,19.5],[2.015,18.5],[2.02,17.8],[2.025,16.8],[2.03,16.0],[2.035,15.2],[2.04,14.2],[2.045,12.8],[2.05,11.6],[2.055,10.6],[2.06,9.5],[2.065,8.6],[2.07,7.6],[2.075,6.6],[2.08,5.6],[2.085,4.5],[2.09,3.4],[2.095,2.4],[2.10,1.4],[2.105,0.6],[2.11,0],[2.12,0],[2.13,0],[2.14,0],[1.88,8.9],
  [1.9,30.2],[1.92,29.5],[1.96,29.4],[1.99,26.2],[2.0,23.6],[2.02,20.5],[2.03,18.8],[2.05,14.0],[2.06,11.8],[2.08,7.8],[2.09,5.5]];
var p5GrayHalo = [[2.13,10.5,21.0],[2.75,10.5,21.0]];
var p5GrayBand = [[2.13,14.0,18.0],[2.3,13.8,18.2],[2.5,13.6,17.8],[2.75,14.0,18.4]];
var p5GrayPts = [[2.13,19.5],[2.14,12.0],[2.15,20.3],[2.16,11.5],[2.18,19.0],[2.19,12.5],[2.20,9.3],[2.21,20.6],[2.23,11.8],[2.25,19.8],[2.26,12.9],[2.28,9.5],[2.29,20.1],[2.31,11.3],[2.33,19.4],[2.34,12.2],[2.36,20.5],[2.37,11.0],[2.39,19.1],[2.41,12.7],[2.42,20.0],[2.44,11.6],[2.46,19.6],[2.47,12.4],[2.49,10.8],[2.50,20.4],[2.52,11.9],[2.54,19.3],[2.55,12.1],[2.57,20.8],[2.58,10.2],[2.60,19.9],[2.61,11.4],[2.63,21.5],[2.64,12.6],[2.66,20.2],[2.67,11.1],[2.69,22.0],[2.70,12.3],[2.71,19.7],[2.72,10.6],[2.73,23.2],[2.74,11.8],[2.745,22.4],[2.73,7.3],[2.75,13.0],[2.75,19.0]];

// panel 6 : I/O, run C
var p6LimeRuns = [[0.01, 0.086, 105]];
var p6RedRuns = [[0.11, 0.18, 60]];
var p6RedPts = [[0.12,18],[0.13,14],[0.13,50],[0.14,65],[0.11,70],[0.16,55]];
var p6BlueRuns = [[0.18, 0.31, 24.5]];
var p6BluePts = [[0.17,9.8],[0.18,8.2],[0.2,10.7],[0.27,4.3],[0.18,19],[0.19,20],[0.625,0.08]];
var p6BlueCurve = [[0.62,0.13],[0.66,0.135],[0.69,0.17],[0.71,0.25],[0.74,0.22],[0.76,0.15],[0.78,0.11],[0.80,0.05],[0.81,0.036],[0.83,0.015],[0.845,0.008],[0.85,0.0063]];
var p6BlueBranch = [[0.74,0.15],[0.755,0.09],[0.76,0.06]];
var p6GreenRuns = [[0.93, 1.05, 47]];
var p6GreenPts = [[0.92,9.8],[0.92,2.45],[1.04,12.6],[1.04,1.17],[0.925,45],[1.0,52]];
var p6MagentaPts = [[1.045,56],[1.05,40],[1.055,30],[1.06,22],[1.06,16],[1.065,12],[1.065,9.5],[1.07,0.74]];
var p6CyanRuns = [[1.12, 1.875, 32]];
var p6CyanCloud = [[1.12,5.0,26.0],[1.875,5.0,26.0]];
var p6CyanPts = [[1.10,5.5],[1.11,25],[1.12,18],[1.13,12],[1.14,22],[1.15,8],[1.16,15],[1.17,27],[1.18,10],[1.19,20],[1.20,6.5],[1.21,14],[1.22,24],[1.23,4.1],[1.24,11],[1.25,17],[1.26,26],[1.27,8.5],[1.28,21],[1.29,13],[1.30,5.8],[1.31,19],[1.32,9.5],[1.33,3.6],[1.34,23],[1.35,12],[1.36,7],[1.37,16],[1.38,27],[1.39,10],[1.40,20],[1.42,1.17],[1.43,6],[1.44,14],[1.46,25],[1.47,9],[1.49,18],[1.50,5],[1.52,12],[1.53,22],[1.55,7.5],[1.57,15],[1.58,26],[1.60,10],[1.62,1.38],[1.63,0.59],[1.64,20],[1.66,8],[1.68,13],[1.70,5.2],[1.72,24],[1.74,0.78],[1.75,11],[1.77,17],[1.79,6.5],[1.80,21],[1.82,9],[1.84,14],[1.85,4.2],[1.86,25],[1.87,11],[1.875,7]];
var p6OrangeHalo = [[1.88,8,50],[2.0,10,45],[2.06,9,25]];
var p6OrangeBand = [[1.88,14,36],[1.95,15,38],[2.0,16,32],[2.05,12,22]];
var p6OrangePts = [[1.88,110],[1.88,40],[1.89,30],[1.89,18],[1.90,45],[1.90,25],[1.90,10],[1.91,35],[1.91,20],[1.91,12],[1.92,50],[1.92,28],[1.92,15],[1.93,38],[1.93,22],[1.93,9],[1.94,42],[1.94,30],[1.94,16],[1.95,55],[1.95,26],[1.95,12],[1.96,35],[1.96,20],[1.97,48],[1.97,28],[1.97,14],[1.98,32],[1.98,22],[1.99,40],[1.99,18],[2.0,30],[2.0,24],[2.01,36],[2.01,20],[2.02,28],[2.02,16],[2.03,22],[2.04,26],[2.04,14],[2.05,18],[2.06,12],[2.07,9],[2.08,6],[2.09,2.45],[2.1,0.51],[2.1,0.32],[2.105,0.19],[2.11,0.09],[2.115,0.052],[2.12,0.036],[2.12,0.03],[2.115,0.045],[1.9,0.04],[1.9,0.0126],[1.88,8],[1.89,6]];
var p6GrayHalo = [[2.13,7.5,16.5],[2.75,7.5,16.5]];
var p6GrayBand = [[2.13,9.0,13.8],[2.4,9.2,14.2],[2.75,9.0,13.8]];
var p6GrayPts = [[2.13,17],[2.15,7.5],[2.17,15.5],[2.2,8],[2.23,18],[2.26,7],[2.28,16],[2.31,8.5],[2.34,17.5],[2.37,7.2],[2.40,15],[2.43,8],[2.46,16.5],[2.49,7.5],[2.52,15.5],[2.55,8.2],[2.58,17],[2.61,7],[2.64,16],[2.67,8],[2.70,15.5],[2.73,6.8],[2.75,16]];

// ---------- styles & layout ----------
var C = {
  lime: "#22e622", red: "#e61010", blue: "#1010ee", dgreen: "#127812",
  magenta: "#e614e6", cyan: "#10dcdc", orange: "#ffa00a", gray: "#454545"
};
var stageColors = ["#ff0000", "#0070c0", "#00b050", "#4bacc6", "#ffc000", "#000000"];
var stageX = [131, 261, 582, 1066, 1500, 1727];
var stageY = [43, 92, 92, 92, 49, 91];
var stageW = [151, 194, 329, 377, 286, 167];

// stipple tiles used to fill the dense point clouds
var tiles = {
  dense: {size: 20, dots: [[2,3],[7,1],[12,4],[17,2],[4,8],[9,7],[15,9],[19,6],[1,12],[6,13],[11,11],[16,14],[3,17],[8,18],[13,16],[18,19],[14,0],[5,4],[0,6],[19,11],[12,19],[9,15]]},
  medium: {size: 20, dots: [[3,2],[11,4],[17,1],[7,9],[15,10],[1,14],[10,16],[18,17],[5,5],[13,13]]},
  sparse: {size: 48, dots: [[6,8],[31,4],[19,23],[41,29],[10,38]]}
};

var width = 1917, height = 1440;
var left = 120, right = 1906;
var panelTop = [101, 315, 524, 739, 953, 1166];
var panelH = 193;
var serif = "'Liberation Serif', 'Times New Roman', serif";

var x = d3.scaleLinear().domain([-0.086, 11]).range([left, right]);

var svg = d3.select("#chart").append("svg")
  .attr("width", width)
  .attr("height", height);

var defs = svg.append("defs");
Object.keys(tiles).forEach(function(t) {
  var s = tiles[t].size;
  Object.keys(C).forEach(function(c) {
    var p = defs.append("pattern").attr("id", t + "-" + c)
      .attr("patternUnits", "userSpaceOnUse").attr("width", s).attr("height", s);
    tiles[t].dots.forEach(function(d) {
      [-s, 0, s].forEach(function(dx) {
        [-s, 0, s].forEach(function(dy) {
          p.append("circle").attr("cx", d[0] + dx).attr("cy", d[1] + dy)
            .attr("r", 1.8).attr("fill", C[c]);
        });
      });
    });
  });
});

function drawLayer(g, y, L) {
  var col = C[L.color];
  if (L.type == "band") {
    g.append("path").datum(L.data)
      .attr("d", d3.area().x(function(d) { return x(d[0]); })
        .y0(function(d) { return y(d[1]); }).y1(function(d) { return y(d[2]); }))
      .attr("fill", "url(#" + L.tex + "-" + L.color + ")");
  } else if (L.type == "run") {
    g.selectAll(null).data(L.data).join("line")
      .attr("x1", function(d) { return x(d[0]); })
      .attr("x2", function(d) { return x(d[1]); })
      .attr("y1", function(d) { return y(d[2]); })
      .attr("y2", function(d) { return y(d[2]); })
      .attr("stroke", col).attr("stroke-width", 4).attr("stroke-linecap", "round");
  } else if (L.type == "line") {
    g.append("path").datum(L.data)
      .attr("d", d3.line().x(function(d) { return x(d[0]); }).y(function(d) { return y(d[1]); }))
      .attr("fill", "none").attr("stroke", col).attr("stroke-width", L.w || 4)
      .attr("stroke-linejoin", "round").attr("stroke-linecap", "round");
  } else {
    g.selectAll(null).data(L.data).join("circle")
      .attr("cx", function(d) { return x(d[0]); })
      .attr("cy", function(d) { return y(d[1]); })
      .attr("r", 1.8)
      .attr("fill", col);
  }
}

function drawPanel(i, isLog, yMax, ticks, layers) {
  var top = panelTop[i], bottom = top + panelH;
  var y = isLog
    ? d3.scaleLog().domain([0.0049, 209]).range([bottom, top])
    : d3.scaleLinear().domain([0, yMax]).range([bottom, top]);

  var g = svg.append("g");
  g.append("clipPath").attr("id", "clip" + i).append("rect")
    .attr("x", left).attr("y", top).attr("width", right - left).attr("height", panelH);

  g.selectAll(".grid").data(hourTicks.slice(0, 11)).join("line")
    .attr("x1", function(d) { return x(d); }).attr("x2", function(d) { return x(d); })
    .attr("y1", top).attr("y2", bottom)
    .attr("stroke", "#666").attr("stroke-width", 1).attr("stroke-dasharray", "2,3");

  var plot = g.append("g").attr("clip-path", "url(#clip" + i + ")");
  layers.forEach(function(L) { drawLayer(plot, y, L); });

  g.append("rect")
    .attr("x", left).attr("y", top).attr("width", right - left).attr("height", panelH)
    .attr("fill", "none").attr("stroke", "#111").attr("stroke-width", 2.5);

  var ax = g.append("g").attr("transform", "translate(" + left + ",0)")
    .call(d3.axisLeft(y).tickValues(ticks).tickSize(-7).tickPadding(19));
  ax.select(".domain").remove();
  ax.selectAll("line").attr("stroke", "#111").attr("stroke-width", 1.2);
  ax.selectAll("text")
    .attr("font-family", serif).attr("font-size", 25).attr("fill", "#111");
  if (isLog) {
    ax.selectAll("text").each(function(d) {
      var t = d3.select(this);
      t.text("10");
      t.append("tspan").attr("dy", "-0.6em").attr("font-size", 16)
        .text(Math.round(Math.log10(d)));
    });
  }

  svg.append("text")
    .attr("transform", "translate(27," + (top + panelH / 2) + ") rotate(-90)")
    .attr("text-anchor", "middle")
    .attr("font-family", serif).attr("font-size", 25).attr("fill", "#111")
    .text(isLog ? "I/O MiB/s" : "Core Utilization");
}

drawPanel(0, false, 21, coreTicks20, [
  {type: "run", color: "lime", data: p1LimeRuns},
  {type: "pts", color: "lime", data: p1LimePts},
  {type: "pts", color: "red", data: p1RedPts},
  {type: "run", color: "blue", data: p1BlueRuns},
  {type: "pts", color: "blue", data: p1BluePts},
  {type: "run", color: "dgreen", data: p1GreenRuns},
  {type: "pts", color: "dgreen", data: p1GreenPts},
  {type: "run", color: "cyan", data: p1CyanRuns},
  {type: "band", color: "cyan", tex: "sparse", data: p1CyanCloud},
  {type: "band", color: "cyan", tex: "dense", data: p1CyanBand},
  {type: "pts", color: "cyan", data: p1CyanLow},
  {type: "pts", color: "cyan", data: p1CyanPts},
  {type: "pts", color: "magenta", data: p1MagentaPts},
  {type: "run", color: "magenta", data: p1MagentaRuns},
  {type: "band", color: "orange", tex: "medium", data: p1OrangeHalo},
  {type: "band", color: "orange", tex: "dense", data: p1OrangeBand},
  {type: "pts", color: "orange", data: p1OrangePts},
  {type: "band", color: "gray", tex: "medium", data: p1GrayHalo},
  {type: "band", color: "gray", tex: "dense", data: p1GrayBand},
  {type: "pts", color: "gray", data: p1GrayPts}
]);

drawPanel(1, true, 0, ioTicks, [
  {type: "run", color: "lime", data: p2LimeRuns},
  {type: "pts", color: "lime", data: p2LimePts},
  {type: "pts", color: "red", data: p2RedPts},
  {type: "run", color: "blue", data: p2BlueRuns},
  {type: "pts", color: "blue", data: p2BluePts},
  {type: "line", color: "blue", data: p2BlueCurve, w: 5},
  {type: "line", color: "blue", data: p2BlueBranch, w: 3},
  {type: "line", color: "dgreen", data: p2GreenTrace, w: 4},
  {type: "line", color: "dgreen", data: p2GreenLow, w: 4},
  {type: "pts", color: "dgreen", data: p2GreenPts},
  {type: "band", color: "cyan", tex: "dense", data: p2CyanBand},
  {type: "band", color: "cyan", tex: "medium", data: p2CyanRow},
  {type: "pts", color: "cyan", data: p2CyanUpper},
  {type: "pts", color: "cyan", data: p2CyanLower},
  {type: "pts", color: "magenta", data: p2MagentaPts},
  {type: "band", color: "orange", tex: "medium", data: p2OrangeHalo},
  {type: "band", color: "orange", tex: "dense", data: p2OrangeBand},
  {type: "pts", color: "orange", data: p2OrangePts},
  {type: "band", color: "gray", tex: "medium", data: p2GrayHalo},
  {type: "band", color: "gray", tex: "dense", data: p2GrayBand},
  {type: "pts", color: "gray", data: p2GrayPts}
]);

drawPanel(2, false, 21, coreTicks20, [
  {type: "run", color: "lime", data: p3LimeRuns},
  {type: "pts", color: "lime", data: p3LimePts},
  {type: "run", color: "red", data: p3RedRuns},
  {type: "pts", color: "red", data: p3RedPts},
  {type: "run", color: "blue", data: p3BlueRuns},
  {type: "pts", color: "blue", data: p3BluePts},
  {type: "run", color: "dgreen", data: p3GreenRuns},
  {type: "pts", color: "dgreen", data: p3GreenPts},
  {type: "run", color: "cyan", data: p3CyanRuns},
  {type: "band", color: "cyan", tex: "sparse", data: p3CyanCloud},
  {type: "band", color: "cyan", tex: "dense", data: p3CyanBand},
  {type: "pts", color: "cyan", data: p3CyanPts},
  {type: "pts", color: "magenta", data: p3MagentaPts},
  {type: "band", color: "orange", tex: "medium", data: p3OrangeHalo},
  {type: "band", color: "orange", tex: "dense", data: p3OrangeBand},
  {type: "pts", color: "orange", data: p3OrangePts},
  {type: "band", color: "gray", tex: "medium", data: p3GrayHalo},
  {type: "band", color: "gray", tex: "dense", data: p3GrayBand},
  {type: "pts", color: "gray", data: p3GrayPts}
]);

drawPanel(3, true, 0, ioTicks, [
  {type: "run", color: "lime", data: p4LimeRuns},
  {type: "pts", color: "lime", data: p4LimePts},
  {type: "run", color: "red", data: p4RedRuns},
  {type: "pts", color: "red", data: p4RedPts},
  {type: "run", color: "blue", data: p4BlueRuns},
  {type: "pts", color: "blue", data: p4BluePts},
  {type: "line", color: "blue", data: p4BlueCurve, w: 5},
  {type: "line", color: "blue", data: p4BlueBranch, w: 3},
  {type: "line", color: "dgreen", data: p4GreenTrace, w: 4},
  {type: "pts", color: "dgreen", data: p4GreenPts},
  {type: "band", color: "cyan", tex: "sparse", data: p4CyanCloud},
  {type: "band", color: "cyan", tex: "dense", data: p4CyanBand},
  {type: "pts", color: "cyan", data: p4CyanPts},
  {type: "pts", color: "magenta", data: p4MagentaPts},
  {type: "band", color: "orange", tex: "medium", data: p4OrangeHalo},
  {type: "band", color: "orange", tex: "dense", data: p4OrangeBand},
  {type: "pts", color: "orange", data: p4OrangePts},
  {type: "band", color: "gray", tex: "medium", data: p4GrayHalo},
  {type: "band", color: "gray", tex: "dense", data: p4GrayBand},
  {type: "pts", color: "gray", data: p4GrayPts}
]);

drawPanel(4, false, 33, coreTicks32, [
  {type: "run", color: "lime", data: p5LimeRuns},
  {type: "run", color: "red", data: p5RedRuns},
  {type: "pts", color: "red", data: p5RedPts},
  {type: "run", color: "blue", data: p5BlueRuns},
  {type: "pts", color: "blue", data: p5BluePts},
  {type: "run", color: "dgreen", data: p5GreenRuns},
  {type: "pts", color: "dgreen", data: p5GreenPts},
  {type: "run", color: "cyan", data: p5CyanRuns},
  {type: "band", color: "cyan", tex: "sparse", data: p5CyanCloud},
  {type: "band", color: "cyan", tex: "dense", data: p5CyanBand},
  {type: "pts", color: "cyan", data: p5CyanPts},
  {type: "pts", color: "magenta", data: p5MagentaPts},
  {type: "pts", color: "orange", data: p5OrangePts},
  {type: "band", color: "gray", tex: "medium", data: p5GrayHalo},
  {type: "band", color: "gray", tex: "dense", data: p5GrayBand},
  {type: "pts", color: "gray", data: p5GrayPts}
]);

drawPanel(5, true, 0, ioTicks, [
  {type: "run", color: "lime", data: p6LimeRuns},
  {type: "run", color: "red", data: p6RedRuns},
  {type: "pts", color: "red", data: p6RedPts},
  {type: "run", color: "blue", data: p6BlueRuns},
  {type: "pts", color: "blue", data: p6BluePts},
  {type: "line", color: "blue", data: p6BlueCurve, w: 5},
  {type: "line", color: "blue", data: p6BlueBranch, w: 3},
  {type: "run", color: "dgreen", data: p6GreenRuns},
  {type: "pts", color: "dgreen", data: p6GreenPts},
  {type: "run", color: "cyan", data: p6CyanRuns},
  {type: "band", color: "cyan", tex: "sparse", data: p6CyanCloud},
  {type: "pts", color: "cyan", data: p6CyanPts},
  {type: "pts", color: "magenta", data: p6MagentaPts},
  {type: "band", color: "orange", tex: "medium", data: p6OrangeHalo},
  {type: "band", color: "orange", tex: "dense", data: p6OrangeBand},
  {type: "pts", color: "orange", data: p6OrangePts},
  {type: "band", color: "gray", tex: "medium", data: p6GrayHalo},
  {type: "band", color: "gray", tex: "dense", data: p6GrayBand},
  {type: "pts", color: "gray", data: p6GrayPts}
]);

// bottom axis
var bottom = panelTop[5] + panelH;
var bx = svg.append("g").attr("transform", "translate(0," + bottom + ")")
  .call(d3.axisBottom(x).tickValues(hourTicks).tickSize(0).tickPadding(18).tickFormat(d3.format("d")));
bx.select(".domain").remove();
bx.selectAll("text")
  .attr("font-family", serif).attr("font-size", 26).attr("fill", "#111")
  .attr("transform", "scale(0.82,1)");

svg.append("text")
  .attr("x", (left + right) / 2).attr("y", 1432)
  .attr("text-anchor", "middle")
  .attr("font-family", serif).attr("font-size", 26).attr("fill", "#111")
  .text("Runtime (hours)");

// stray label at the right edge of the lower core panel
svg.append("text")
  .attr("x", 1906).attr("y", 967)
  .attr("font-family", serif).attr("font-size", 21).attr("fill", "#111")
  .text("1");

// stage names
svg.selectAll(".stage").data(stageNames).join("text")
  .attr("class", "stage")
  .attr("x", function(d, i) { return stageX[i]; })
  .attr("y", function(d, i) { return stageY[i]; })
  .attr("textLength", function(d, i) { return stageW[i]; })
  .attr("lengthAdjust", "spacingAndGlyphs")
  .attr("font-family", "Lato, 'Open Sans', sans-serif")
  .attr("font-size", 41)
  .attr("fill", function(d, i) { return stageColors[i]; })
  .text(function(d) { return d; });
</script>
</body>
</html>
